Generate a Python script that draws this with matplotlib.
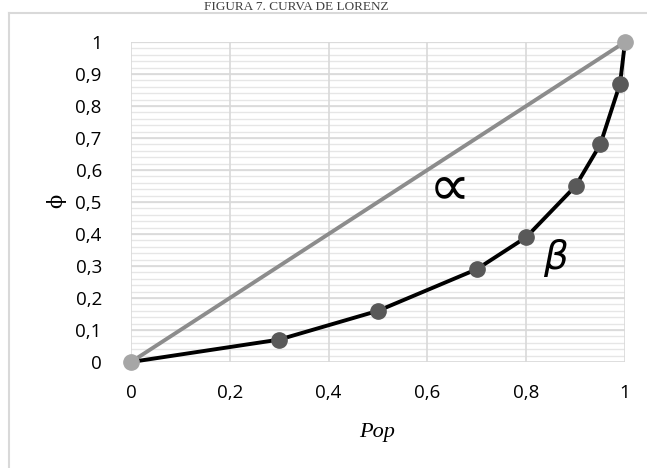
import matplotlib
matplotlib.use("Agg")
import matplotlib.pyplot as plt
from matplotlib.lines import Line2D
import numpy as np

# Data
pop = [0, 0.3, 0.5, 0.7, 0.8, 0.9, 0.95, 0.99, 1.0]
phi = [0, 0.07, 0.16, 0.29, 0.39, 0.55, 0.68, 0.87, 1.0]
eq_x = [0, 1]
eq_y = [0, 1]
x_ticks = [0, 0.2, 0.4, 0.6, 0.8, 1.0]
x_tick_labels = ["0", "0,2", "0,4", "0,6", "0,8", "1"]
y_ticks = [0, 0.1, 0.2, 0.3, 0.4, 0.5, 0.6, 0.7, 0.8, 0.9, 1.0]
y_tick_labels = ["0", "0,1", "0,2", "0,3", "0,4", "0,5", "0,6", "0,7", "0,8", "0,9", "1"]

W, H = 647, 468
fig = plt.figure(figsize=(W / 100, H / 100), dpi=100)

# outer frame (left and top visible)
fig.add_artist(Line2D([9 / W, 9 / W], [0, 1 - 13 / H], color="#d9d9d9", lw=1.5))
fig.add_artist(Line2D([9 / W, 1], [1 - 13 / H, 1 - 13 / H], color="#d9d9d9", lw=1.5))

# title
fig.text(296 / W, 1 - 1 / H, "FIGURA 7. CURVA DE LORENZ", ha="center", va="top",
         family="Liberation Serif", fontsize=9.5, color="#404040")

ax = fig.add_axes([131 / W, 1 - 362 / H, (625 - 131) / W, (362 - 42) / H])
ax.set_xlim(0, 1)
ax.set_ylim(0, 1)

# grid
for yv in np.arange(0, 1.0001, 0.02):
    ax.axhline(yv, color="#e6e6e6", lw=1.0, zorder=0)
for yv in y_ticks:
    ax.axhline(yv, color="#d9d9d9", lw=1.2, zorder=0)
for xv in x_ticks:
    ax.axvline(xv, color="#d9d9d9", lw=1.2, zorder=0)

for s in ax.spines.values():
    s.set_visible(False)
ax.tick_params(length=0, labelsize=13.5, colors="#000000")
ax.set_xticks(x_ticks)
ax.set_xticklabels(x_tick_labels, family="Open Sans")
ax.set_yticks(y_ticks)
ax.set_yticklabels(y_tick_labels, family="Open Sans")
ax.tick_params(axis="y", pad=21)
ax.tick_params(axis="x", pad=16)

# equality line
ax.plot(eq_x, eq_y, color="#8c8c8c", lw=2.8, zorder=2, clip_on=False)
ax.plot(eq_x, eq_y, ls="none", marker="o", ms=11, color="#a6a6a6", zorder=4, clip_on=False)

# Lorenz curve
ax.plot(pop, phi, color="#000000", lw=2.8, zorder=3, clip_on=False)
ax.plot(pop[1:-1], phi[1:-1], ls="none", marker="o", ms=11, color="#595959", zorder=4, clip_on=False)

ax.text(0.646, 0.545, "∝", fontsize=42, ha="center", va="center", family="DejaVu Sans")
ax.text(0.86, 0.325, "β", fontsize=28, ha="center", va="center", style="italic", family="DejaVu Sans")

fig.text(377 / W, 1 - 432 / H, "Pop", ha="center", va="center", style="italic",
         family="Liberation Serif", fontsize=16)
fig.text(56 / W, 1 - 201 / H, "ϕ", ha="center", va="center", rotation=90,
         family="DejaVu Serif", fontsize=15)

fig.savefig("out.png", dpi=100)
